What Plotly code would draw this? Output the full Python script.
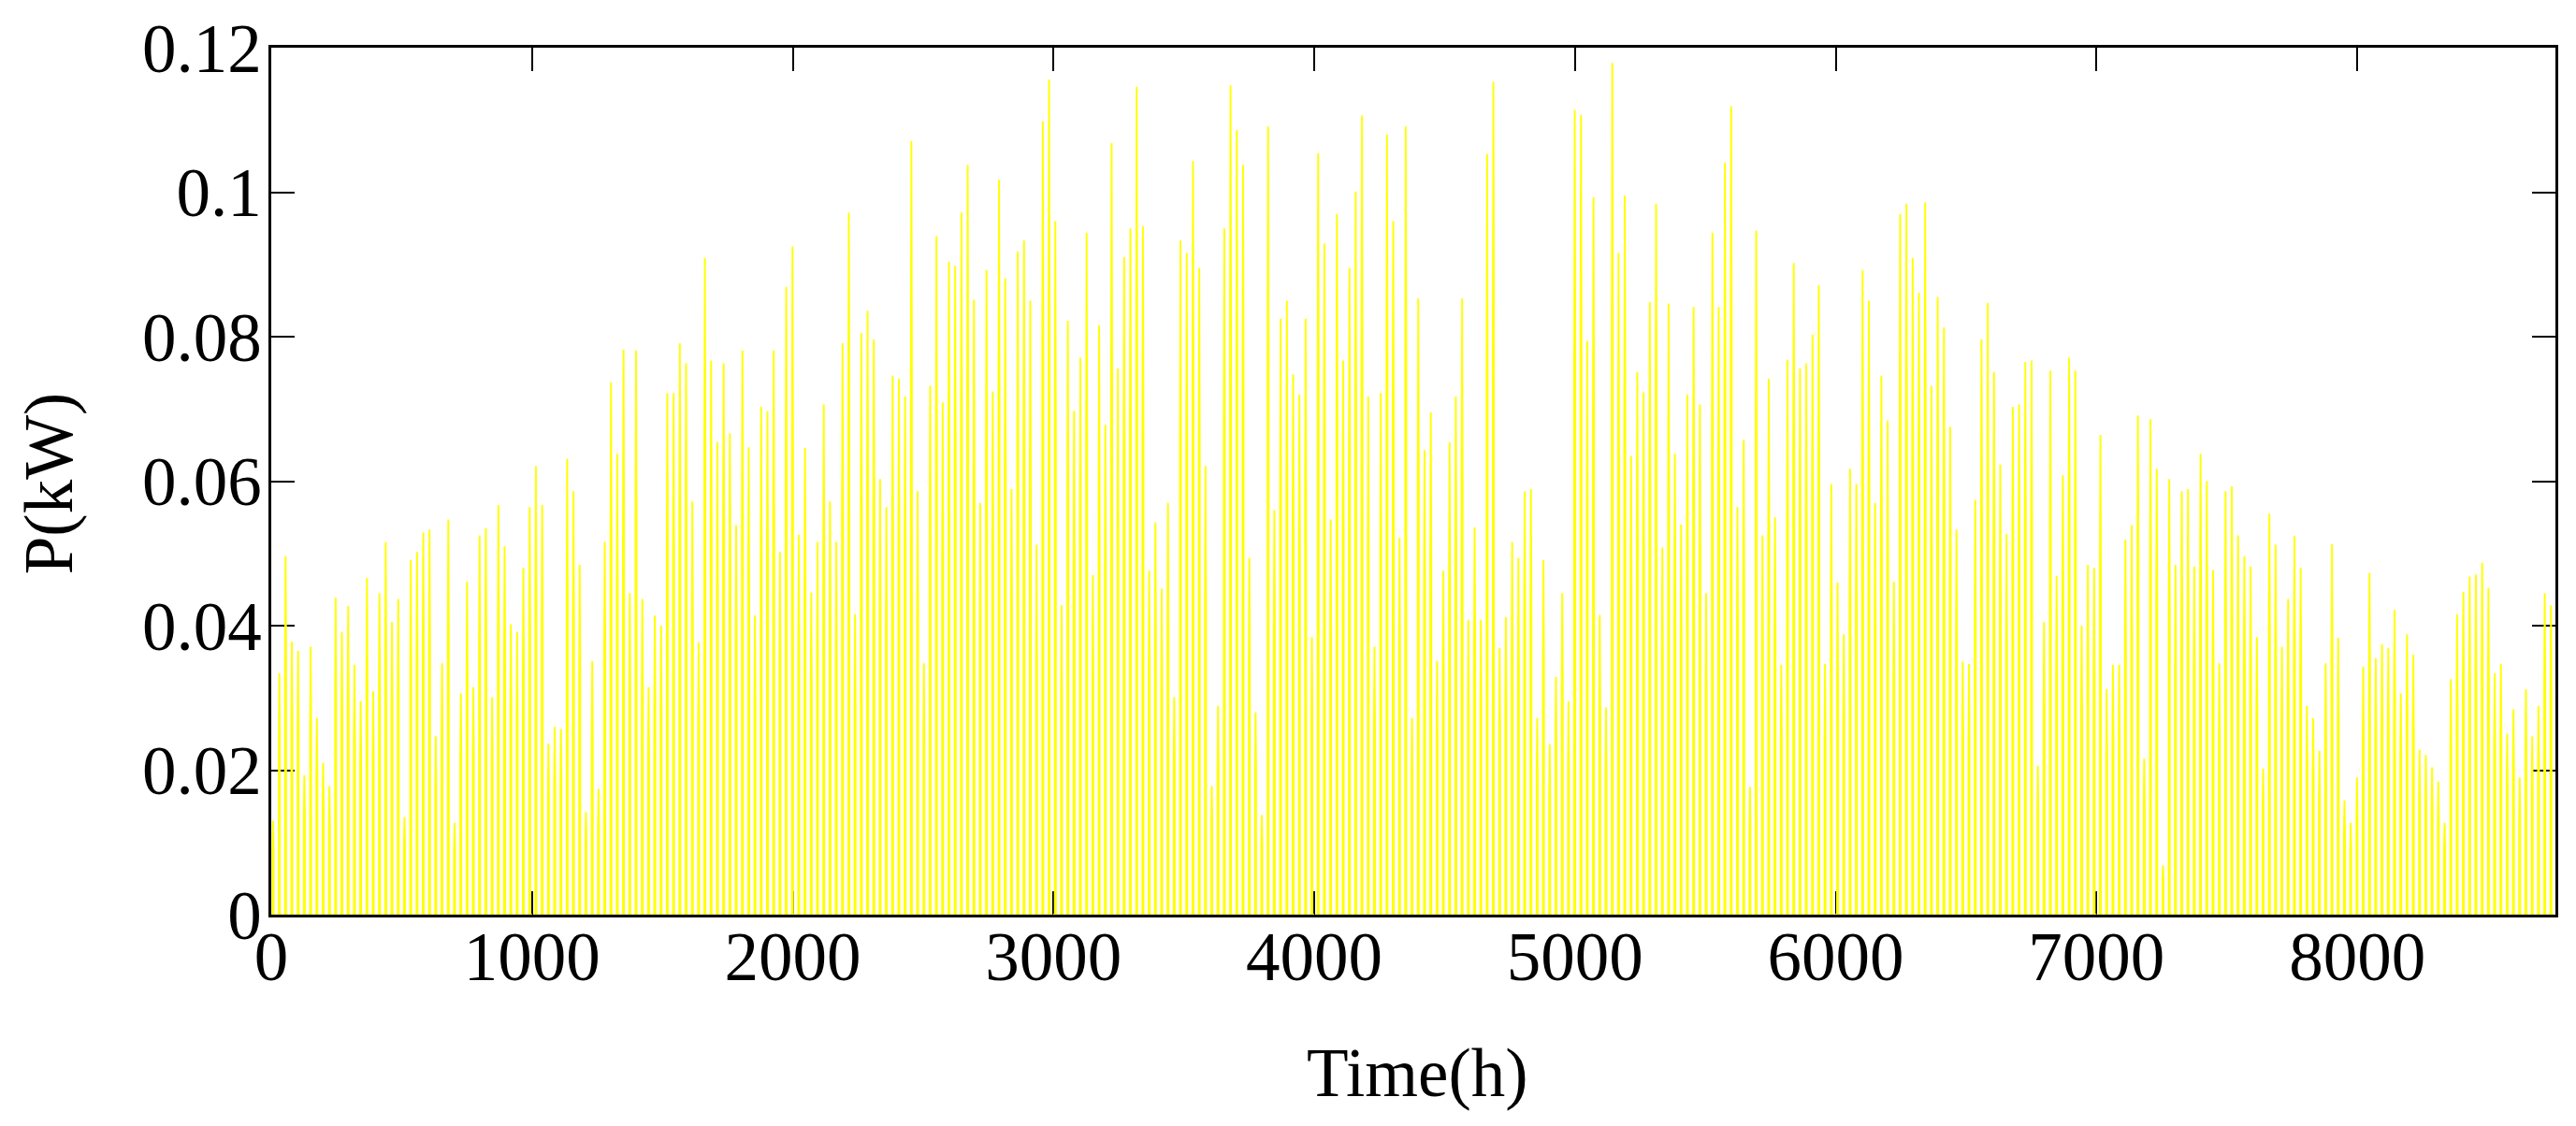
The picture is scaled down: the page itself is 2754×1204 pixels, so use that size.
import plotly.graph_objects as go

# Daily peak output (kW), one value per day of the year
days_001_046 = [.0130,.0334,.0496,.0378,.0365,.0193,.0371,.0272,.0210,.0178,.0439,.0391,.0427,.0346,.0295,.0466,.0309,.0445,.0516,.0405,.0437,.0135,.0491,.0502,.0529,.0533,.0247,.0348,.0547,.0127,.0306,.0461,.0315,.0525,.0535,.0301,.0567,.0510,.0402,.0391,.0480,.0564,.0621,.0567,.0237,.0260]
days_047_092 = [.0257,.0631,.0586,.0484,.0142,.0351,.0174,.0516,.0737,.0638,.0782,.0445,.0781,.0437,.0315,.0414,.0400,.0722,.0722,.0791,.0763,.0572,.0377,.0909,.0767,.0654,.0763,.0666,.0539,.0781,.0647,.0414,.0703,.0697,.0781,.0502,.0869,.0925,.0526,.0646,.0446,.0516,.0706,.0572,.0516,.0791]
days_093_138 = [.0972,.0416,.0805,.0836,.0796,.0603,.0564,.0746,.0742,.0717,.1071,.0586,.0348,.0732,.0939,.0709,.0904,.0898,.0972,.1038,.0851,.0570,.0892,.0724,.1017,.0881,.0589,.0918,.0933,.0850,.0512,.1098,.1156,.0960,.0428,.0822,.0697,.0771,.0944,.0470,.0816,.0678,.1068,.0756,.0910,.0950]
days_139_183 = [.1146,.0953,.0476,.0543,.0451,.0570,.0301,.0933,.0916,.1043,.0895,.0621,.0178,.0289,.0950,.1148,.1086,.1038,.0494,.0280,.0138,.1091,.0560,.0825,.0850,.0748,.0720,.0825,.0384,.1054,.0929,.0547,.0970,.0767,.0895,.1001,.1106,.0717,.0371,.0722,.1080,.0960,.0522,.1091,.0272]
days_184_229 = [.0853,.0643,.0695,.0351,.0476,.0654,.0717,.0853,.0408,.0536,.0408,.1053,.1153,.0369,.0412,.0516,.0494,.0586,.0589,.0272,.0491,.0236,.0329,.0445,.0295,.1114,.1107,.0794,.0993,.0415,.0287,.1179,.0916,.0995,.0635,.0751,.0723,.0848,.0984,.0508,.0846,.0638,.0540,.0720,.0841,.0706]
days_230_274 = [.0445,.0944,.0841,.1041,.1119,.0564,.0657,.0177,.0947,.0525,.0742,.0550,.0346,.0768,.0902,.0756,.0763,.0803,.0871,.0347,.0596,.0460,.0388,.0617,.0596,.0892,.0850,.0570,.0746,.0684,.0461,.0970,.0984,.0909,.0861,.0986,.0732,.0855,.0813,.0675,.0533,.0350,.0347,.0574,.0796]
days_275_320 = [.0847,.0751,.0623,.0527,.0703,.0706,.0765,.0767,.0206,.0405,.0753,.0469,.0608,.0771,.0753,.0400,.0484,.0480,.0664,.0312,.0346,.0346,.0519,.0539,.0691,.0216,.0686,.0617,.0068,.0603,.0484,.0586,.0589,.0482,.0638,.0600,.0477,.0348,.0586,.0593,.0525,.0496,.0482,.0384,.0202,.0555]
days_321_365 = [.0512,.0371,.0437,.0524,.0480,.0289,.0272,.0227,.0348,.0513,.0383,.0158,.0127,.0190,.0343,.0473,.0355,.0374,.0369,.0422,.0306,.0388,.0360,.0228,.0221,.0204,.0184,.0127,.0326,.0416,.0447,.0468,.0471,.0487,.0452,.0334,.0347,.0250,.0284,.0190,.0312,.0247,.0289,.0445,.0428]

daily_peak = (days_001_046 + days_047_092 + days_093_138 + days_139_183
              + days_184_229 + days_230_274 + days_275_320 + days_321_365)

x_ticks = [0, 1000, 2000, 3000, 4000, 5000, 6000, 7000, 8000]
y_ticks = [0, 0.02, 0.04, 0.06, 0.08, 0.1, 0.12]
y_labels = ["0", "0.02", "0.04", "0.06", "0.08", "0.1", "0.12"]

# Each day is a narrow column around its peak hour, on a short foot at zero
xs, ys = [], []
for d, v in enumerate(daily_peak):
    h = 7 + 24 * d
    xs += [max(h - 9, 0), h - 2, h - 2, h, h + 2, h + 2, h + 9, None]
    ys += [0, 0, 0.7 * v, v, 0.7 * v, 0, 0, None]

FONT = "Liberation Serif"
SIZE = 73
fig = go.Figure(go.Scatter(x=xs, y=ys, mode="lines", cliponaxis=False,
                           line=dict(color="#ffff00", width=1.9),
                           hoverinfo="skip", showlegend=False))
axis = dict(showgrid=False, zeroline=False, showline=True, linecolor="black", linewidth=2.5,
            mirror="ticks", ticks="inside", ticklen=25, tickwidth=1.5, tickcolor="black",
            layer="below traces", ticklabeloverflow="allow",
            tickfont=dict(family=FONT, size=SIZE, color="black"))
fig.update_xaxes(range=[0, 8760], tickmode="array", tickvals=x_ticks, ticktext=[str(t) for t in x_ticks],
                 ticklabelstandoff=-20, **axis)
fig.update_yaxes(range=[0, 0.12], tickmode="array", tickvals=y_ticks, ticktext=y_labels,
                 ticklabelstandoff=-7, **axis)
fig.add_annotation(text="Time(h)", xref="paper", yref="paper", x=0.502, y=-0.183,
                   xanchor="center", yanchor="middle", showarrow=False,
                   font=dict(family=FONT, size=SIZE, color="black"))
fig.add_annotation(text="P(kW)", xref="paper", yref="paper", x=-0.0975, y=0.498, textangle=-90,
                   xanchor="center", yanchor="middle", showarrow=False,
                   font=dict(family=FONT, size=SIZE, color="black"))
fig.update_layout(width=2754, height=1204, autosize=False, paper_bgcolor="white", plot_bgcolor="white",
                  margin=dict(l=290, r=22, t=44, b=226, pad=0), showlegend=False)
fig.write_html("out.html", config={"displayModeBar": False},
               post_script="document.body.style.margin='0';document.documentElement.style.overflow='hidden';")
